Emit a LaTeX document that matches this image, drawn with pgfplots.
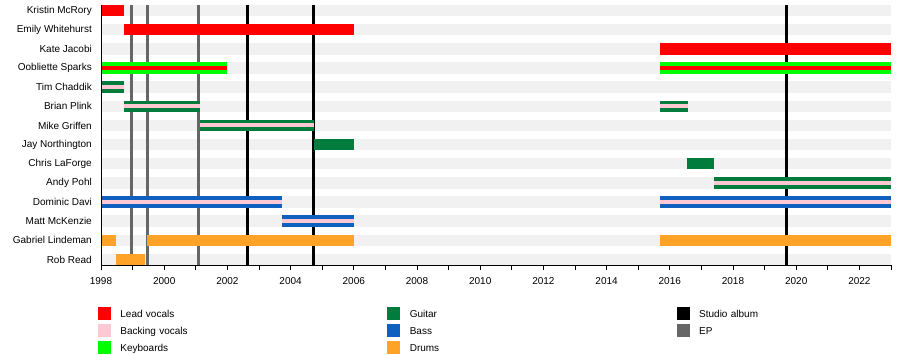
\documentclass[border=0pt]{standalone}
\usepackage{fontspec}
\setmainfont{Liberation Sans}
\usepackage{pgfplots}
\pgfplotsset{compat=1.18}
\definecolor{leadc}{RGB}{255,0,0}
\definecolor{backc}{RGB}{255,200,210}
\definecolor{keyc}{RGB}{0,255,0}
\definecolor{guitc}{RGB}{0,125,60}
\definecolor{bassc}{RGB}{16,96,192}
\definecolor{drumc}{RGB}{255,163,40}
\definecolor{studc}{RGB}{0,0,0}
\definecolor{epc}{RGB}{102,102,102}
\definecolor{bandc}{RGB}{241,241,241}
% bar: style, start, end, row
\newcommand\seg[4]{\addplot[#1, forget plot] coordinates {(#2,#4) (#3,#4)};}
\newcommand\vl[2]{\addplot[draw=#1, line width=3pt, forget plot] coordinates {(#2,0.69) (#2,14.29)};}
\begin{document}
\begin{tikzpicture}
\begin{axis}[name=ax, scale only axis, width=790pt, height=260.4pt,
  xmin=1998, xmax=2023, ymin=0.69, ymax=14.29,
  axis lines=left, axis line style={-, line width=0.8pt, black},
  axis on top,
  clip=false,
  tick align=outside,
  xtick={1998,2000,...,2022}, minor xtick={1999,2001,...,2023},
  major tick length=5pt, minor tick length=5pt,
  every tick/.style={black, line width=0.8pt},
  x tick label style={/pgf/number format/1000 sep=, inner sep=0pt},
  xticklabel shift=7pt,
  /pgf/number format/assume math mode=true,
  ytick={1,...,14},
  yticklabels={Rob Read, Gabriel Lindeman, Matt McKenzie, Dominic Davi, Andy Pohl, Chris LaForge, Jay Northington, Mike Griffen, Brian Plink, Tim Chaddik, Oobliette Sparks, Kate Jacobi, Emily Whitehurst, Kristin McRory},
  ytick style={draw=none},
  y tick label style={inner sep=0pt},
  yticklabel shift=4pt,
  tick label style={font=\fontsize{10}{12}\selectfont},
  full/.style={line width=11.5pt},
  inner/.style={line width=4pt},
  legend columns=3,
  legend cell align=left,
  legend image code/.code={\fill[#1] (0pt,-6pt) rectangle (12pt,6pt);},
  legend style={draw=none, fill=none, inner sep=0pt, outer sep=0pt,
    at={(rel axis cs:0,0)}, anchor=north west, xshift=-3pt, yshift=-41.6pt,
    row sep=4.6pt,
    nodes={inner sep=0pt, text width=100pt, text height=10pt, text depth=2pt, font=\fontsize{10}{12}\selectfont},
    /tikz/every odd column/.append style={column sep=10pt},
    /tikz/every even column/.append style={column sep=167pt}},
]
% background bands
\seg{draw=bandc, full}{1998}{2023}{14}
\seg{draw=bandc, full}{1998}{2023}{13}
\seg{draw=bandc, full}{1998}{2023}{12}
\seg{draw=bandc, full}{1998}{2023}{11}
\seg{draw=bandc, full}{1998}{2023}{10}
\seg{draw=bandc, full}{1998}{2023}{9}
\seg{draw=bandc, full}{1998}{2023}{8}
\seg{draw=bandc, full}{1998}{2023}{7}
\seg{draw=bandc, full}{1998}{2023}{6}
\seg{draw=bandc, full}{1998}{2023}{5}
\seg{draw=bandc, full}{1998}{2023}{4}
\seg{draw=bandc, full}{1998}{2023}{3}
\seg{draw=bandc, full}{1998}{2023}{2}
\seg{draw=bandc, full}{1998}{2023}{1}
% releases
\vl{epc}{1998.95}
\vl{epc}{1999.47}
\vl{epc}{2001.10}
\vl{studc}{2002.63}
\vl{studc}{2004.71}
\vl{studc}{2019.69}
% lead vocals
\seg{draw=leadc, full}{1998}{1998.73}{14}
\seg{draw=leadc, full}{1998.73}{2006.0}{13}
\seg{draw=leadc, full}{2015.7}{2023}{12}
% keyboards + lead
\seg{draw=keyc, full}{1998}{2002.0}{11}
\seg{draw=keyc, full}{2015.7}{2023}{11}
\seg{draw=leadc, inner}{1998}{2002.0}{11}
\seg{draw=leadc, inner}{2015.7}{2023}{11}
% guitar
\seg{draw=guitc, full}{1998}{1998.73}{10}
\seg{draw=guitc, full}{1998.73}{2001.13}{9}
\seg{draw=guitc, full}{2015.7}{2016.58}{9}
\seg{draw=guitc, full}{2001.13}{2004.74}{8}
\seg{draw=guitc, full}{2004.74}{2006.0}{7}
\seg{draw=guitc, full}{2016.53}{2017.40}{6}
\seg{draw=guitc, full}{2017.40}{2023}{5}
% bass
\seg{draw=bassc, full}{1998}{2003.73}{4}
\seg{draw=bassc, full}{2015.7}{2023}{4}
\seg{draw=bassc, full}{2003.73}{2006.0}{3}
% backing vocals
\seg{draw=backc, inner}{1998}{1998.73}{10}
\seg{draw=backc, inner}{1998.73}{2001.13}{9}
\seg{draw=backc, inner}{2015.7}{2016.58}{9}
\seg{draw=backc, inner}{2001.13}{2004.74}{8}
\seg{draw=backc, inner}{2017.40}{2023}{5}
\seg{draw=backc, inner}{1998}{2003.73}{4}
\seg{draw=backc, inner}{2015.7}{2023}{4}
\seg{draw=backc, inner}{2003.73}{2006.0}{3}
% drums
\seg{draw=drumc, full}{1998.04}{1998.46}{2}
\seg{draw=drumc, full}{1999.47}{2006.0}{2}
\seg{draw=drumc, full}{2015.7}{2023}{2}
\seg{draw=drumc, full}{1998.46}{1999.39}{1}
% legend
\addlegendimage{leadc}\addlegendentry{Lead vocals}
\addlegendimage{guitc}\addlegendentry{Guitar}
\addlegendimage{studc}\addlegendentry{Studio album}
\addlegendimage{backc}\addlegendentry{Backing vocals}
\addlegendimage{bassc}\addlegendentry{Bass}
\addlegendimage{epc}\addlegendentry{EP}
\addlegendimage{keyc}\addlegendentry{Keyboards}
\addlegendimage{drumc}\addlegendentry{Drums}
\end{axis}
\path (ax.south west) ++(-101pt,-89.6pt) rectangle ++(900pt,355pt);
\end{tikzpicture}
\end{document}
